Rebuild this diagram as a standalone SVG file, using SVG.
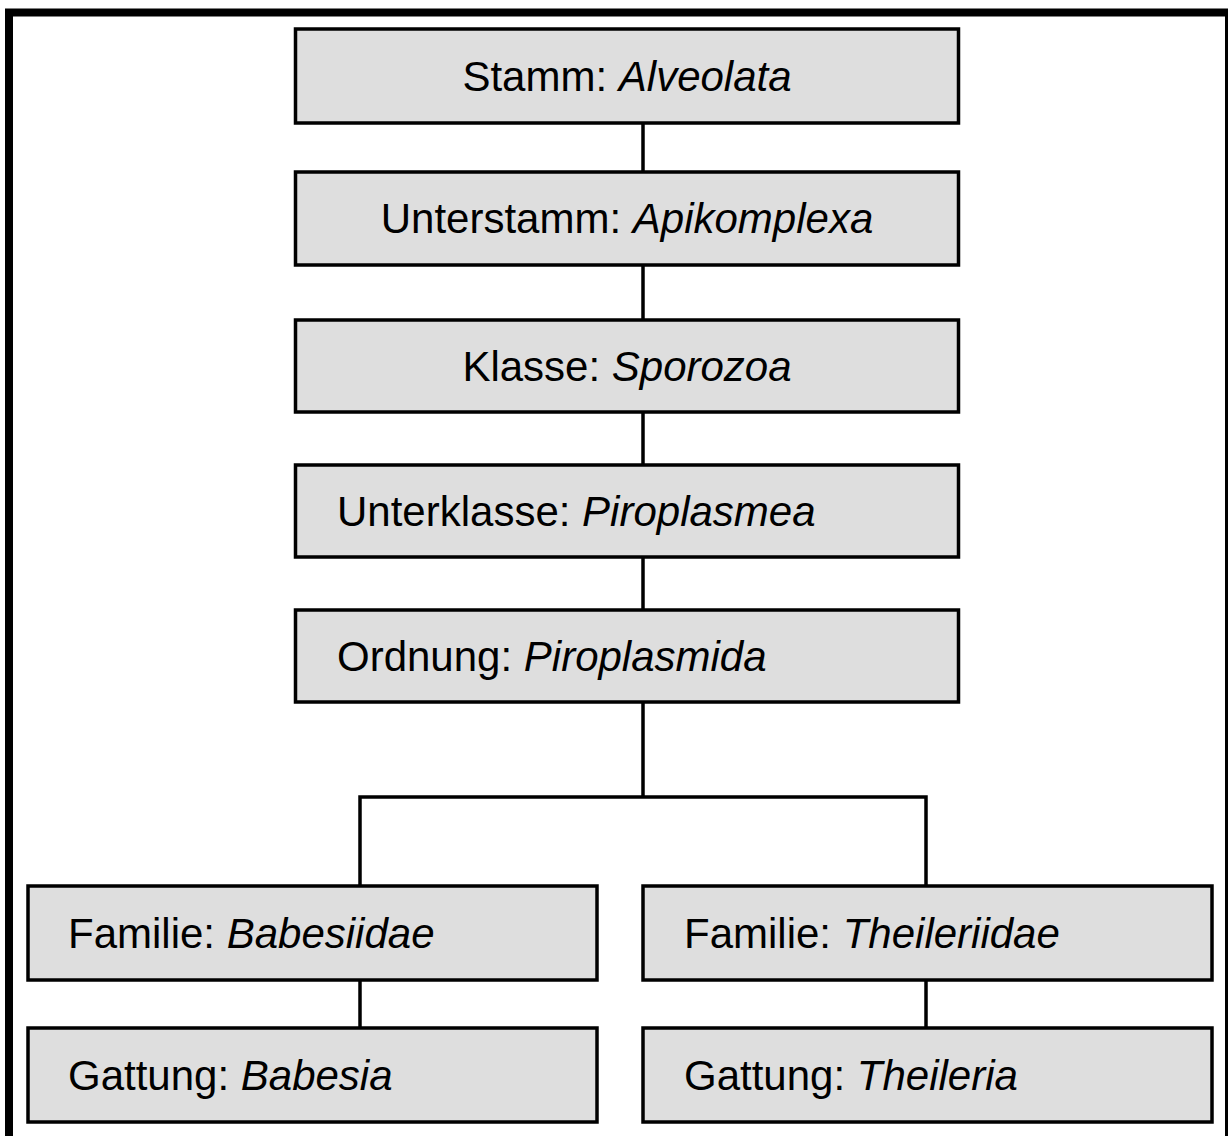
<svg xmlns="http://www.w3.org/2000/svg" width="1228" height="1136" viewBox="0 0 1228 1136">
<style>
.box{fill:#dedede;stroke:#000;stroke-width:3.5}
.t{font-family:"Liberation Sans",Arial,sans-serif;font-size:42px;fill:#000}
.c{text-anchor:middle}
.i{font-style:italic}
.ln{stroke:#000;stroke-width:3.5;fill:none}
</style>
<rect x="0" y="0" width="1228" height="1136" fill="#fff"/>
<rect id="frame" x="9" y="12.5" width="1220" height="1150" fill="none" stroke="#000" stroke-width="8"/>
<g id="connectors">
<line class="ln" x1="643" y1="123" x2="643" y2="172"/>
<line class="ln" x1="643" y1="265" x2="643" y2="320"/>
<line class="ln" x1="643" y1="412" x2="643" y2="465"/>
<line class="ln" x1="643" y1="557" x2="643" y2="610"/>
<path class="ln" d="M643 702 V797 M360 886 V797 H926 V886"/>
<line class="ln" x1="360" y1="980" x2="360" y2="1028"/>
<line class="ln" x1="926" y1="980" x2="926" y2="1028"/>
</g>
<g id="stamm"><rect class="box" x="295.5" y="29" width="663" height="94"/><text class="t c" x="627" y="91">Stamm: <tspan class="i">Alveolata</tspan></text></g>
<g id="unterstamm"><rect class="box" x="295.5" y="172" width="663" height="93"/><text class="t c" x="627" y="233">Unterstamm: <tspan class="i">Apikomplexa</tspan></text></g>
<g id="klasse"><rect class="box" x="295.5" y="320" width="663" height="92"/><text class="t c" x="627" y="381">Klasse: <tspan class="i">Sporozoa</tspan></text></g>
<g id="unterklasse"><rect class="box" x="295.5" y="465" width="663" height="92"/><text class="t" x="337" y="526">Unterklasse: <tspan class="i">Piroplasmea</tspan></text></g>
<g id="ordnung"><rect class="box" x="295.5" y="610" width="663" height="92"/><text class="t" x="337" y="671">Ordnung: <tspan class="i">Piroplasmida</tspan></text></g>
<g id="familie-babesiidae"><rect class="box" x="28" y="886" width="569" height="94"/><text class="t" x="68" y="948">Familie: <tspan class="i">Babesiidae</tspan></text></g>
<g id="familie-theileriidae"><rect class="box" x="643" y="886" width="569" height="94"/><text class="t" x="684" y="948">Familie: <tspan class="i">Theileriidae</tspan></text></g>
<g id="gattung-babesia"><rect class="box" x="28" y="1028" width="569" height="94"/><text class="t" x="68" y="1090">Gattung: <tspan class="i">Babesia</tspan></text></g>
<g id="gattung-theileria"><rect class="box" x="643" y="1028" width="569" height="94"/><text class="t" x="684" y="1090">Gattung: <tspan class="i">Theileria</tspan></text></g>
</svg>
